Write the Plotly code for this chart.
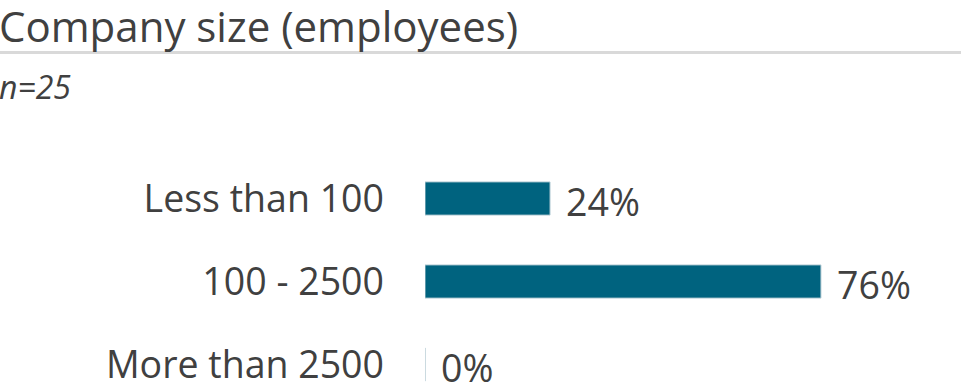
import plotly.graph_objects as go

categories = ["Less than 100", "100 - 2500", "More than 2500"]
values = [24, 76, 0]
value_labels = ["24%", "76%", "0%"]
title_text = "Company size (employees)"
subtitle_text = "n=25"

TEXT = "#404040"
BAR = "#00637f"
FONT = "Open Sans"

L, R, T, B = 425, 15, 157, 0
W, H = 961, 392
PW, PH = W - L - R, H - T - B

def px_x(x):
    return (x - L) / PW

def px_y(y):
    return (H - B - y) / PH

fig = go.Figure()
fig.add_trace(go.Bar(
    y=categories, x=values, orientation="h", width=0.4,
    marker=dict(color=BAR, line=dict(color="#b9ced6", width=1)),
    hoverinfo="skip",
))

for c, v, t in zip(categories, values, value_labels):
    fig.add_annotation(x=v, y=c, text=t, showarrow=False, xanchor="left",
                       xshift=14, yshift=-3, font=dict(family=FONT, size=37.5, color=TEXT))

fig.add_annotation(xref="paper", yref="paper", x=px_x(-3), y=px_y(-5), text=title_text,
                   showarrow=False, xanchor="left", yanchor="top",
                   font=dict(family=FONT, size=42, color=TEXT))
fig.add_annotation(xref="paper", yref="paper", x=px_x(-3), y=px_y(63), text="<i>" + subtitle_text + "</i>",
                   showarrow=False, xanchor="left", yanchor="top",
                   font=dict(family=FONT, size=32, color=TEXT))
fig.add_shape(type="line", xref="paper", yref="paper", x0=px_x(0), x1=px_x(W),
              y0=px_y(52.5), y1=px_y(52.5), line=dict(color="#d9d9d9", width=3))

fig.update_layout(
    width=W, height=H,
    margin=dict(l=L, r=R, t=T, b=B, autoexpand=False),
    paper_bgcolor="white", plot_bgcolor="white",
    showlegend=False,
    xaxis=dict(range=[0, 100], visible=False, fixedrange=True, automargin=False),
    yaxis=dict(type="category", range=[2.331, -0.5], showgrid=False, zeroline=False,
               showline=False, ticks="", ticklabelstandoff=40, automargin=False,
               fixedrange=True, tickfont=dict(family=FONT, size=37.5, color=TEXT)),
    font=dict(family=FONT, color=TEXT),
)

fig.write_html("out.html", config={"displayModeBar": False},
               post_script="document.body.style.margin='0';")
